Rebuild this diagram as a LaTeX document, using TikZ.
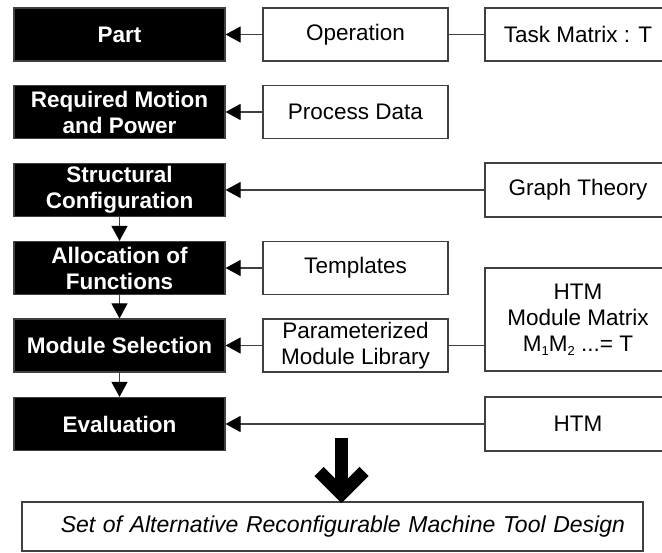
\documentclass[tikz,border=0pt]{standalone}
\usepackage{fontspec}
\setmainfont{Liberation Sans}
\usetikzlibrary{arrows.meta}
\begin{document}
\begin{tikzpicture}[x=1pt,y=-1pt,
  blk/.style={fill=black, draw=black!75, line width=1.2pt, minimum width=211pt, minimum height=53pt, inner sep=0pt, text=white, font=\fontsize{22.5}{26}\selectfont\bfseries, align=center},
  wht/.style={fill=white, draw=black!75, line width=1.2pt, inner sep=0pt, font=\fontsize{22.5}{26}\selectfont, align=center},
  mid/.style={wht, minimum width=185pt, minimum height=53pt},
  rgt/.style={wht, minimum width=186pt, minimum height=53pt},
  con/.style={draw=black!75, line width=1.2pt},
  arr/.style={con, -{Triangle[length=15pt,width=16pt,color=black]}},
  bigarrow/.style={line width=13pt, draw=black}
]
\clip (0,0) rectangle (662,553);
% left column
\node[blk] (part)   at (119.5,34.5)  {Part};
\node[blk] (motion) at (119.5,112)   {Required Motion\\and Power};
\node[blk] (struct) at (119.5,190)   {Structural\\Configuration};
\node[blk] (alloc)  at (119.5,268)   {Allocation of\\Functions};
\node[blk] (modsel) at (119.5,345.5) {Module Selection};
\node[blk] (eval)   at (119.5,424)   {Evaluation};
% middle column
\node[mid] (oper)   at (355.5,34.5)  {Operation};
\node[mid] (proc)   at (355.5,112)   {Process Data};
\node[mid] (templ)  at (355.5,268)   {Templates};
\node[mid] (param)  at (355.5,345.5) {Parameterized\\Module Library};
% right column
\node[rgt] (task)   at (578,34.5)    {Task Matrix : T};
\node[rgt, minimum height=54pt] (graph) at (578,190) {Graph Theory};
\node[rgt, minimum height=103pt] (htmmm) at (578,319.5) {HTM\\Module Matrix\\M\raisebox{-0.35ex}{\fontsize{13}{13}\selectfont 1}M\raisebox{-0.35ex}{\fontsize{13}{13}\selectfont 2} ...= T};
\node[rgt, minimum height=54pt] (htm) at (578,424) {HTM};
% connectors
\draw[arr] (oper.west) -- (part.east);
\draw[con] (task.west) -- (oper.east);
\draw[arr] (proc.west) -- (motion.east);
\draw[arr] (graph.west) -- (struct.east);
\draw[arr] (templ.west) -- (alloc.east);
\draw[arr] (param.west) -- (modsel.east);
\draw[con] (param.east) -- (htmmm.west |- param.east);
\draw[arr] (htm.west) -- (eval.east);
\draw[arr] (struct.south) -- (alloc.north);
\draw[arr] (alloc.south) -- (modsel.north);
\draw[arr] (modsel.south) -- (eval.north);
% result box
\node[draw=black!75, line width=1.2pt, inner xsep=18pt, inner ysep=0pt, text width=585pt, align=right, minimum height=49pt, font=\fontsize{23}{26}\selectfont\itshape] (result) at (332.5,526.5) {Set of Alternative Reconfigurable Machine Tool Design};
% big arrow
\coordinate (shafttop) at (341.5,438);
\coordinate (vertex) at (341.5,494);
\draw[bigarrow] (shafttop) -- (vertex);
\draw[bigarrow, line join=miter] (319,471.5) -- (vertex) -- (364,471.5);
\end{tikzpicture}
\end{document}
